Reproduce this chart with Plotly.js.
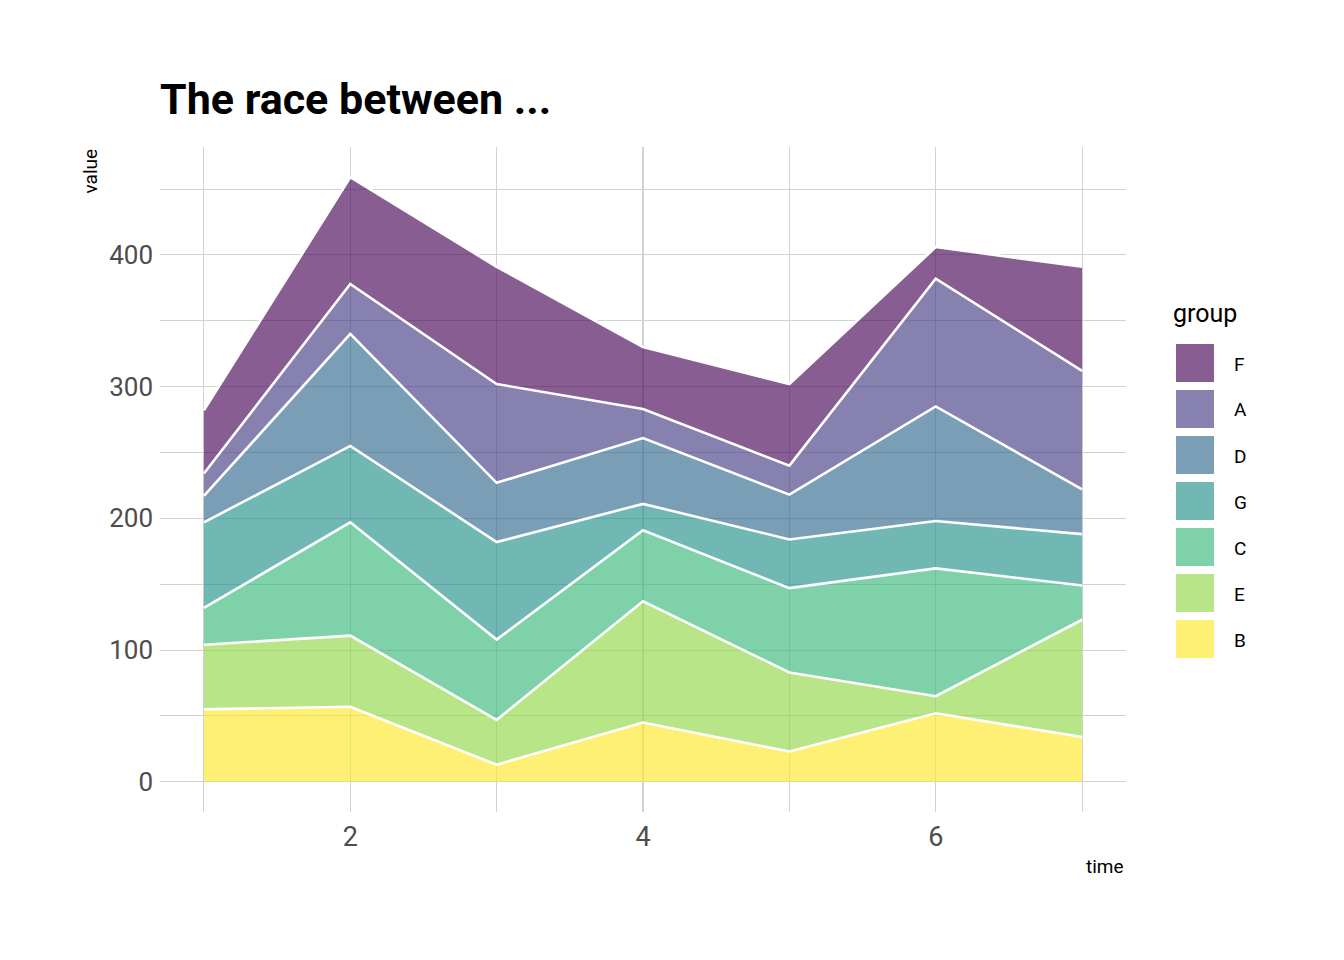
<!DOCTYPE html>
<html>
<head>
<meta charset="utf-8">
<script src="https://cdn.plot.ly/plotly-3.0.1.min.js"></script>
<style>html,body{margin:0;padding:0;background:#fff;}#chart{width:1344px;height:960px;}</style>
</head>
<body>
<div id="chart"></div>
<script>
// ---- data ----
var time = [1, 2, 3, 4, 5, 6, 7];
var groupsBottomUp = ['B', 'E', 'C', 'G', 'D', 'A', 'F'];
var valB = [55, 57, 13, 45, 23, 52, 34];
var valE = [49, 54, 34, 92, 60, 13, 89];
var valC = [28, 86, 61, 54, 64, 97, 26];
var valG = [65, 58, 74, 20, 37, 36, 39];
var valD = [20, 85, 45, 50, 34, 87, 34];
var valA = [17, 38, 75, 22, 22, 97, 90];
var valF = [48, 81, 89, 47, 62, 24, 79];
var seriesValues = {B: valB, E: valE, C: valC, G: valG, D: valD, A: valA, F: valF};
var groupColors = {F: [68,1,84], A: [68,58,131], D: [49,104,142], G: [33,144,140], C: [53,183,121], E: [143,215,68], B: [253,231,37]};
var legendOrder = ['F', 'A', 'D', 'G', 'C', 'E', 'B'];
var xTicks = [2, 4, 6];
var yTicks = [0, 100, 200, 300, 400];

// ---- style ----
var ALPHA = 0.64;
var FONT = '"Liberation Sans Narrow", "Arial Narrow", Roboto, sans-serif';
function rgba(c, a) { return 'rgba(' + c[0] + ',' + c[1] + ',' + c[2] + ',' + a + ')'; }

// plot area in pixels
var L = 160, R = 1126, T = 147, B = 812;
function pxX(px) { return (px - L) / (R - L); }
function pxY(py) { return (B - py) / (B - T); }

var traces = groupsBottomUp.map(function (g) {
  return {
    type: 'scatter', mode: 'lines', x: time, y: seriesValues[g], name: g,
    stackgroup: 'one', fillcolor: rgba(groupColors[g], ALPHA),
    line: {color: '#ffffff', width: 2.6, shape: 'linear'},
    showlegend: false, hoverinfo: 'skip'
  };
});

var shapes = [], annotations = [];
legendOrder.forEach(function (g, i) {
  var top = 344 + i * 46;
  shapes.push({
    type: 'rect', xref: 'paper', yref: 'paper',
    x0: pxX(1176), x1: pxX(1214), y0: pxY(top + 38), y1: pxY(top),
    fillcolor: rgba(groupColors[g], ALPHA), line: {width: 0}, layer: 'above'
  });
  annotations.push({
    xref: 'paper', yref: 'paper', x: pxX(1232), y: pxY(top + 20),
    xanchor: 'left', yanchor: 'middle', showarrow: false, text: g,
    font: {family: FONT, size: 19, color: '#000'}
  });
});
annotations.push({
  xref: 'paper', yref: 'paper', x: pxX(1171), y: pxY(313),
  xanchor: 'left', yanchor: 'middle', showarrow: false, text: 'group',
  font: {family: FONT, size: 25, color: '#000'}
});
annotations.push({
  xref: 'paper', yref: 'paper', x: pxX(90), y: 1, xanchor: 'center', yanchor: 'top',
  textangle: -90, showarrow: false, text: 'value',
  font: {family: FONT, size: 19, color: '#000'}
});
annotations.push({
  xref: 'paper', yref: 'paper', x: 1, y: pxY(866), xanchor: 'right', yanchor: 'middle',
  showarrow: false, text: 'time',
  font: {family: FONT, size: 19, color: '#000'}
});

var gridColor = '#d2d2d2';
var layout = {
  width: 1344, height: 960,
  margin: {l: L, r: 1344 - R, t: T, b: 960 - B, pad: 0},
  paper_bgcolor: '#fff', plot_bgcolor: '#fff',
  title: {
    text: '<b>The race between ...</b>', xref: 'paper', x: 0, xanchor: 'left',
    yref: 'container', y: 1 - 99 / 960, yanchor: 'middle',
    font: {family: FONT, size: 43, color: '#000'}
  },
  xaxis: {
    range: [0.7, 7.3], tickmode: 'array', tickvals: xTicks, ticktext: xTicks.map(String),
    showgrid: true, gridcolor: gridColor, gridwidth: 1.1, zeroline: false, showline: false,
    ticks: '', ticklabelstandoff: 6,
    minor: {tickmode: 'array', tickvals: [1, 3, 5, 7], showgrid: true, gridcolor: gridColor, gridwidth: 1.1, ticks: ''},
    tickfont: {family: FONT, size: 27, color: '#4d4d4d'}
  },
  yaxis: {
    range: [-22.95, 481.95], tickmode: 'array', tickvals: yTicks, ticktext: yTicks.map(String),
    showgrid: true, gridcolor: gridColor, gridwidth: 1.1, zeroline: false, showline: false,
    ticks: '', ticklabelstandoff: 6,
    minor: {tickmode: 'array', tickvals: [50, 150, 250, 350, 450], showgrid: true, gridcolor: gridColor, gridwidth: 1.1, ticks: ''},
    tickfont: {family: FONT, size: 26, color: '#4d4d4d'}
  },
  shapes: shapes,
  annotations: annotations,
  showlegend: false
};

Plotly.newPlot('chart', traces, layout, {staticPlot: true, displayModeBar: false});
</script>
</body>
</html>
